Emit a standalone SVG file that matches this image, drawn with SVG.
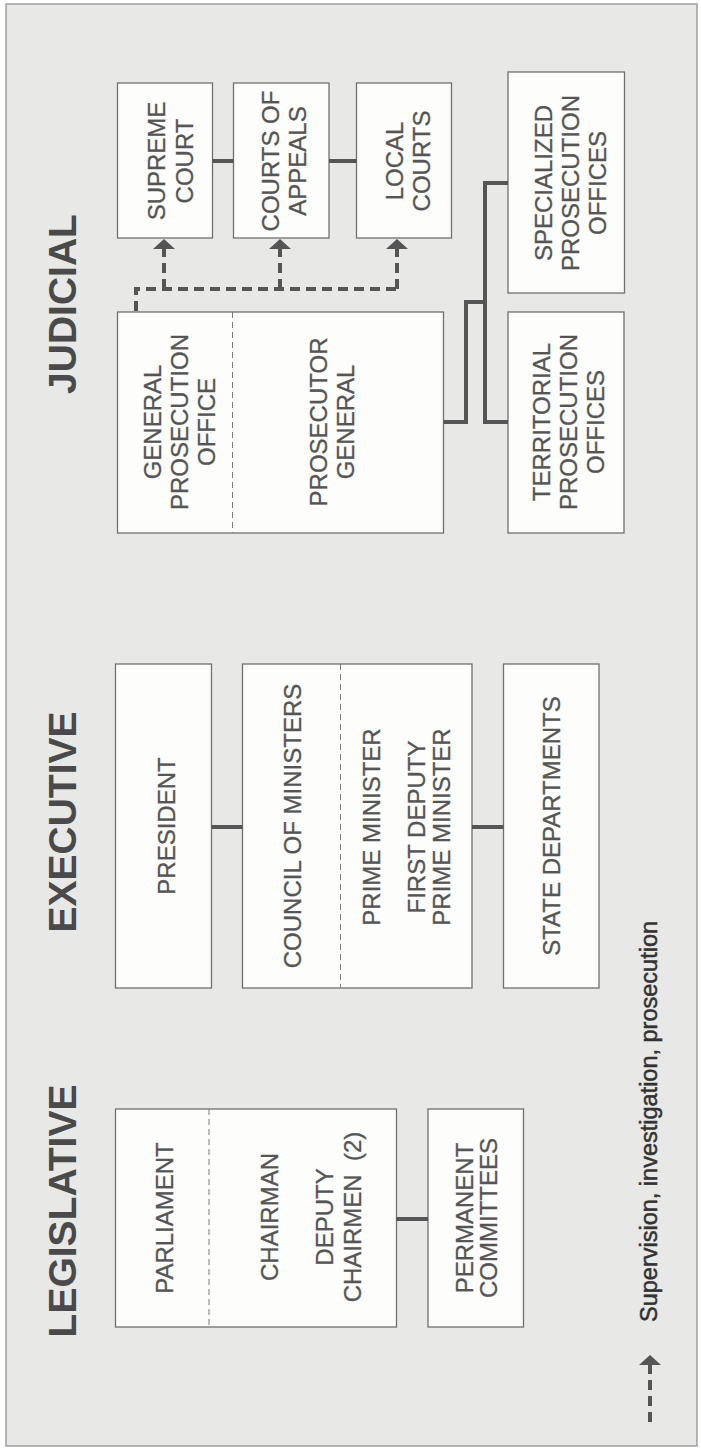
<svg xmlns="http://www.w3.org/2000/svg" width="701" height="1450" viewBox="0 0 701 1450">
<defs>
<style>
.frame{fill:#e8e8e6;stroke:#8a8a8a;stroke-width:1.2}
.box{fill:#fdfdfc;stroke:#707070;stroke-width:1.3}
.div{stroke:#7a7a7a;stroke-width:1;stroke-dasharray:6 4;fill:none}
.t{font-family:"Liberation Sans",Arial,Helvetica,sans-serif;font-size:24px;fill:#555;stroke:#555;stroke-width:0.3;text-anchor:middle}
.title{font-family:"Liberation Sans",Arial,Helvetica,sans-serif;font-size:39px;font-weight:bold;fill:#4a4a4a;text-anchor:middle}
.leg{font-family:"Liberation Sans",Arial,Helvetica,sans-serif;font-size:23.5px;fill:#333;stroke:#333;stroke-width:0.5;text-anchor:start}
.solid{stroke:#555;stroke-width:4;fill:none}
.dash{stroke:#555;stroke-width:4;fill:none;stroke-dasharray:10 6}
</style>
<marker id="ah" viewBox="0 -12 10 24" refX="0" refY="0" markerWidth="10" markerHeight="24" markerUnits="userSpaceOnUse" orient="auto">
<path d="M0,-11 L10,0 L0,11 z" fill="#555"/>
</marker>
</defs>
<rect width="701" height="1450" fill="#ffffff"/>
<rect class="frame" x="6" y="4" width="691" height="1442"/>

<g id="title-judicial"><text class="title" transform="translate(76,304) rotate(-90)">JUDICIAL</text></g>
<g id="title-executive"><text class="title" transform="translate(76,822) rotate(-90)">EXECUTIVE</text></g>
<g id="title-legislative"><text class="title" transform="translate(76,1211) rotate(-90)">LEGISLATIVE</text></g>

<g id="supreme-court">
<rect class="box" x="117.5" y="83" width="95" height="155"/>
<text class="t" transform="translate(165,161) rotate(-90)">SUPREME</text>
<text class="t" transform="translate(193,161) rotate(-90)">COURT</text>
</g>
<g id="courts-of-appeals">
<rect class="box" x="233.5" y="83" width="95.5" height="155"/>
<text class="t" transform="translate(279,161) rotate(-90)">COURTS OF</text>
<text class="t" transform="translate(306,161) rotate(-90)">APPEALS</text>
</g>
<g id="local-courts">
<rect class="box" x="356.5" y="83" width="95" height="155"/>
<text class="t" transform="translate(403,161) rotate(-90)">LOCAL</text>
<text class="t" transform="translate(430,161) rotate(-90)">COURTS</text>
</g>
<g id="specialized-prosecution">
<rect class="box" x="508" y="72" width="116.5" height="221"/>
<text class="t" transform="translate(552,183) rotate(-90)">SPECIALIZED</text>
<text class="t" transform="translate(579,183) rotate(-90)">PROSECUTION</text>
<text class="t" transform="translate(606,183) rotate(-90)">OFFICES</text>
</g>
<g id="general-prosecution">
<rect class="box" x="117.5" y="312" width="326" height="221"/>
<line class="div" x1="232.5" y1="312" x2="232.5" y2="533"/>
<text class="t" transform="translate(161,422) rotate(-90)">GENERAL</text>
<text class="t" transform="translate(188,422) rotate(-90)">PROSECUTION</text>
<text class="t" transform="translate(215,422) rotate(-90)">OFFICE</text>
<text class="t" transform="translate(327,422) rotate(-90)">PROSECUTOR</text>
<text class="t" transform="translate(354,422) rotate(-90)">GENERAL</text>
</g>
<g id="territorial-prosecution">
<rect class="box" x="508" y="312" width="116" height="221"/>
<text class="t" transform="translate(550,422) rotate(-90)">TERRITORIAL</text>
<text class="t" transform="translate(577,422) rotate(-90)">PROSECUTION</text>
<text class="t" transform="translate(604,422) rotate(-90)">OFFICES</text>
</g>

<g id="president">
<rect class="box" x="115.5" y="664" width="96" height="324"/>
<text class="t" transform="translate(175,826) rotate(-90)">PRESIDENT</text>
</g>
<g id="council-of-ministers">
<rect class="box" x="242.5" y="664" width="229.5" height="324"/>
<line class="div" x1="340.5" y1="664" x2="340.5" y2="988"/>
<text class="t" transform="translate(301,826) rotate(-90)">COUNCIL OF MINISTERS</text>
<text class="t" transform="translate(380,827) rotate(-90)">PRIME MINISTER</text>
<text class="t" transform="translate(425,827) rotate(-90)">FIRST DEPUTY</text>
<text class="t" transform="translate(450,827) rotate(-90)">PRIME MINISTER</text>
</g>
<g id="state-departments">
<rect class="box" x="503.5" y="664" width="95.5" height="324"/>
<text class="t" transform="translate(560,826) rotate(-90)">STATE DEPARTMENTS</text>
</g>

<g id="parliament">
<rect class="box" x="115.5" y="1109" width="281" height="218"/>
<line class="div" x1="209" y1="1109" x2="209" y2="1327"/>
<text class="t" transform="translate(173,1218) rotate(-90)">PARLIAMENT</text>
<text class="t" transform="translate(278,1217) rotate(-90)">CHAIRMAN</text>
<text class="t" transform="translate(333,1217) rotate(-90)">DEPUTY</text>
<text class="t" transform="translate(361,1217) rotate(-90)">CHAIRMEN&#160; (2)</text>
</g>
<g id="permanent-committees">
<rect class="box" x="428" y="1109" width="95.5" height="218"/>
<text class="t" transform="translate(473,1218) rotate(-90)">PERMANENT</text>
<text class="t" transform="translate(497,1218) rotate(-90)">COMMITTEES</text>
</g>

<g id="connectors">
<line class="solid" x1="212.5" y1="161" x2="233.5" y2="161"/>
<line class="solid" x1="329" y1="161" x2="356.5" y2="161"/>
<polyline class="solid" points="443.5,422 466,422 466,302 485,302"/>
<polyline class="solid" points="508,183 485,183 485,422 508,422"/>
<line class="solid" x1="211.5" y1="827" x2="242.5" y2="827"/>
<line class="solid" x1="472" y1="827" x2="503.5" y2="827"/>
<line class="solid" x1="396.5" y1="1219" x2="428" y2="1219"/>
<polyline class="dash" points="136,311 136,289 397,289"/>
<line class="dash" x1="164" y1="289" x2="164" y2="249" marker-end="url(#ah)"/>
<line class="dash" x1="280" y1="289" x2="280" y2="249" marker-end="url(#ah)"/>
<line class="dash" x1="397" y1="289" x2="397" y2="249" marker-end="url(#ah)"/>
</g>

<g id="legend">
<line class="dash" x1="650" y1="1422" x2="650" y2="1365" marker-end="url(#ah)"/>
<text class="leg" transform="translate(657,1322) rotate(-90)">Supervision, investigation, prosecution</text>
</g>
</svg>
